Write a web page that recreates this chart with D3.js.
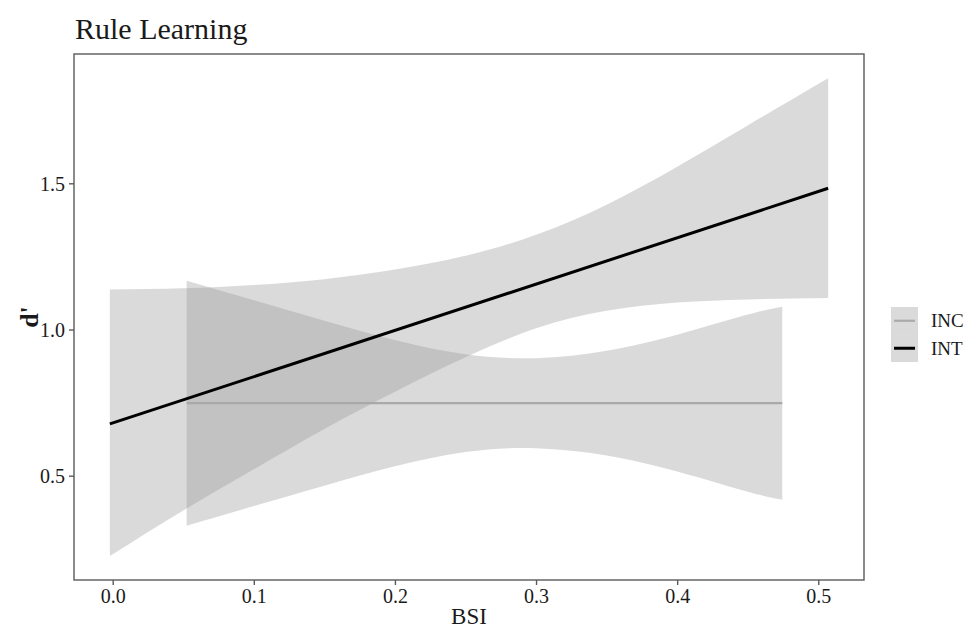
<!DOCTYPE html>
<html><head><meta charset="utf-8">
<script src="https://cdn.jsdelivr.net/npm/d3@7"></script>
<style>body{margin:0;background:#fff}svg{display:block}text{font-family:"Liberation Serif","Times New Roman",serif;fill:#1a1a1a}</style>
</head><body>
<script>
// ---- data ----
const groups = ["INC", "INT"];
const xTicks = [0.0, 0.1, 0.2, 0.3, 0.4, 0.5];
const yTicks = [0.5, 1.0, 1.5];

// INT: linear fit line and its confidence band
const intLineX = [-0.002, 0.507];
const intLineY = [0.677, 1.483];
const intBandX = [-0.002, 0.05, 0.1, 0.15, 0.2, 0.25, 0.3, 0.35, 0.4, 0.45, 0.507];
const intBandHi = [1.137, 1.141, 1.152, 1.172, 1.205, 1.252, 1.324, 1.427, 1.557, 1.698, 1.859];
const intBandLo = [0.225, 0.381, 0.522, 0.660, 0.787, 0.905, 1.004, 1.064, 1.092, 1.103, 1.108];

// INC: flat fit line and its confidence band
const incLineX = [0.0524, 0.4745];
const incLineY = [0.748, 0.748];
const incBandX = [0.0524, 0.1, 0.15, 0.2, 0.25, 0.3, 0.35, 0.4, 0.45, 0.4745];
const incBandHi = [1.167, 1.100, 1.030, 0.964, 0.915, 0.902, 0.927, 0.982, 1.051, 1.078];
const incBandLo = [0.329, 0.396, 0.466, 0.532, 0.581, 0.594, 0.569, 0.514, 0.445, 0.418];

const W = 968, H = 630;
const svg = d3.select("body").append("svg").attr("width", W).attr("height", H);

const P = {l: 74, r: 864, t: 54, b: 580};
const x = d3.scaleLinear().domain([-0.02742, 0.5324]).range([P.l, P.r]);
const y = d3.scaleLinear().domain([0.1433, 1.9422]).range([P.b, P.t]);

const bandFill = "#999999", bandOp = 0.36;
const area = d3.area().curve(d3.curveNatural).x(d => x(d.x)).y0(d => y(d.lo)).y1(d => y(d.hi));
const line = d3.line().x(d => x(d.x)).y(d => y(d.y));

const incBand = incBandX.map((v, i) => ({x: v, lo: incBandLo[i], hi: incBandHi[i]}));
const intBand = intBandX.map((v, i) => ({x: v, lo: intBandLo[i], hi: intBandHi[i]}));

svg.append("path").datum(incBand).attr("d", area).attr("fill", bandFill).attr("fill-opacity", bandOp);
svg.append("path").datum(intBand).attr("d", area).attr("fill", bandFill).attr("fill-opacity", bandOp);

svg.append("path").datum(incLineX.map((v, i) => ({x: v, y: incLineY[i]})))
  .attr("d", line).attr("fill", "none").attr("stroke", "#a9a9a9").attr("stroke-width", 2.2);
svg.append("path").datum(intLineX.map((v, i) => ({x: v, y: intLineY[i]})))
  .attr("d", line).attr("fill", "none").attr("stroke", "#000").attr("stroke-width", 3);

// panel border
svg.append("rect").attr("x", P.l).attr("y", P.t).attr("width", P.r - P.l).attr("height", P.b - P.t)
  .attr("fill", "none").attr("stroke", "#5a5a5a").attr("stroke-width", 1.4);

// axes
const xAxis = svg.append("g").attr("transform", `translate(0,${P.b})`)
  .call(d3.axisBottom(x).tickValues(xTicks).tickFormat(d3.format(".1f")).tickSize(5).tickPadding(4));
const yAxis = svg.append("g").attr("transform", `translate(${P.l},0)`)
  .call(d3.axisLeft(y).tickValues(yTicks).tickFormat(d3.format(".1f")).tickSize(5).tickPadding(4));
[xAxis, yAxis].forEach(g => {
  g.select(".domain").remove();
  g.selectAll(".tick line").attr("stroke", "#5a5a5a").attr("stroke-width", 1.4);
  g.selectAll(".tick text").attr("font-size", 20).attr("font-family", '"Liberation Serif",serif').attr("fill", "#333");
});
yAxis.selectAll(".tick text").attr("dy", "0.35em");

// titles
svg.append("text").attr("x", 75).attr("y", 39).attr("font-size", 30).text("Rule Learning");
svg.append("text").attr("x", (P.l + P.r) / 2).attr("y", 624).attr("text-anchor", "middle").attr("font-size", 23).text("BSI");
svg.append("text").attr("transform", `translate(38,${(P.t + P.b) / 2}) rotate(-90)`).attr("text-anchor", "middle")
  .attr("font-size", 26).attr("font-weight", "bold").text("d'");

// legend
const lg = svg.append("g");
const keyX = 891, keyY = 307, keyW = 27, keyH = 27.5;
groups.forEach((gname, i) => {
  const yy = keyY + i * keyH;
  lg.append("rect").attr("x", keyX).attr("y", yy).attr("width", keyW).attr("height", keyH)
    .attr("fill", bandFill).attr("fill-opacity", bandOp);
  lg.append("line").attr("x1", keyX + 3).attr("x2", keyX + keyW - 3).attr("y1", yy + keyH / 2).attr("y2", yy + keyH / 2)
    .attr("stroke", gname === "INC" ? "#a9a9a9" : "#000").attr("stroke-width", gname === "INC" ? 2.2 : 3);
  lg.append("text").attr("x", keyX + keyW + 13).attr("y", yy + keyH / 2).attr("dy", "0.35em")
    .attr("font-size", 19).text(gname);
});
</script>
</body></html>
